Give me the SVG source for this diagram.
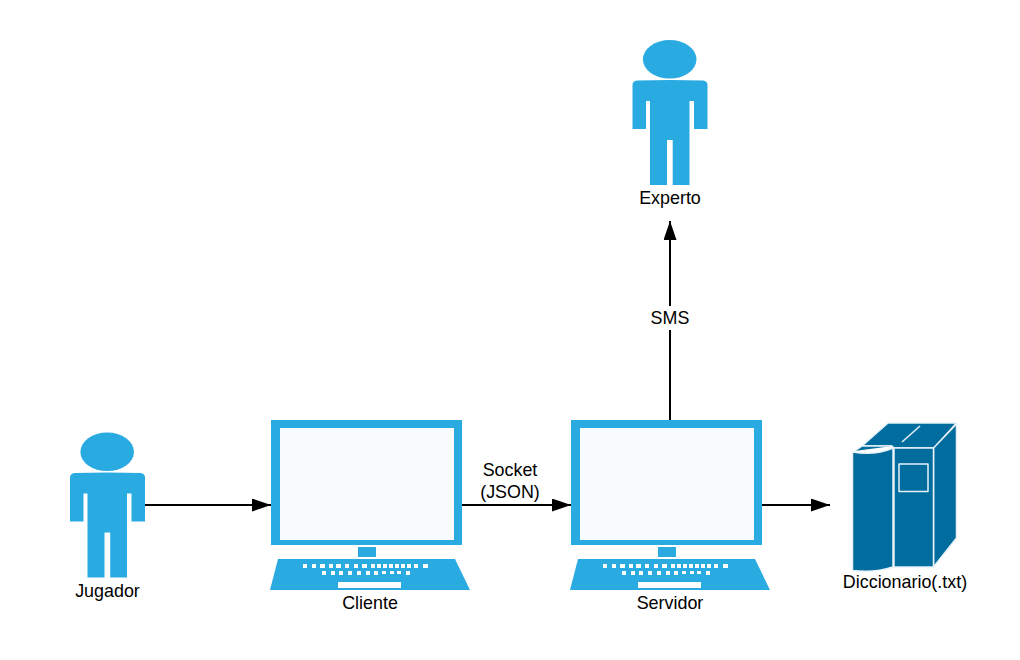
<svg xmlns="http://www.w3.org/2000/svg" width="1020" height="660" viewBox="0 0 1020 660">
<style>
text{font-family:"Liberation Sans",Arial,sans-serif;font-size:17.900px;fill:#000;text-anchor:middle}
.b{fill:#29abe2}
.s{fill:#fff}
.c{fill:none;stroke:#000;stroke-width:2}
.bk{fill:#006d9e;stroke:#e8f2f7;stroke-width:1.500;stroke-linejoin:round}
</style>
<defs>
<marker id="a" markerUnits="userSpaceOnUse" markerWidth="20" markerHeight="14" refX="19" refY="6.5" orient="auto"><path d="M0 0L19 6.500L0 13Z" fill="#000"/></marker>
<g id="person">
<ellipse class="b" cx="669.700" cy="59.300" rx="26.800" ry="19.300"/>
<path class="b" d="M637 80.500Q670 79.500 703 80.500Q707.500 81 707.500 85V129H694V101H689.500V185H672.700V140H667V185H650V101H646V129H632.500V85Q632.500 81 637 80.500Z"/>
</g>
<g id="pc">
<rect class="b" x="271" y="420" width="191" height="125"/>
<rect x="280" y="428" width="174" height="112" fill="#f8fcff"/>
<rect class="b" x="358" y="547" width="18" height="10"/>
<path class="b" d="M278 559H455L470 590H270Z"/>
<path class="s" d="M303 564h4v4h-4zM312 564h4v4h-4zM320 564h5v4h-5zM329 564h4v4h-4zM336 564h5v4h-5zM345 564h4v4h-4zM354 564h4v4h-4zM362 564h5v4h-5zM371 564h4v4h-4zM377 564h4v4h-4zM383 564h4v4h-4zM389 564h4v4h-4zM395 564h4v4h-4zM401 564h4v4h-4zM407 564h4v4h-4zM414 564h4v4h-4zM423 564h5v4h-5zM322 571h4v4h-4zM331 571h4v4h-4zM339 571h4v4h-4zM348 571h4v4h-4zM357 571h4v4h-4zM366 571h4v4h-4zM374 571h4v4h-4zM382 571h4v3h-4zM390 571h4v3h-4zM397 571h4v3h-4zM406 571h4v4h-4z"/>
<rect class="s" x="338" y="582" width="63" height="6"/>
</g>
</defs>
<g id="connectors">
<path class="c" d="M145 505H271" marker-end="url(#a)"/>
<path class="c" d="M462 505H571" marker-end="url(#a)"/>
<path class="c" d="M762 505H830" marker-end="url(#a)"/>
<path class="c" d="M670 420V221" marker-end="url(#a)"/>
<rect x="648" y="306" width="44" height="24" fill="#fff"/>
<text x="670" y="323.700">SMS</text>
<text x="510" y="475.700">Socket</text>
<text x="510" y="497.700">(JSON)</text>
</g>
<g id="experto"><use href="#person"/><text x="670" y="203.700">Experto</text></g>
<g id="jugador"><use href="#person" x="-562.500" y="392.500"/><text x="107.500" y="596.700">Jugador</text></g>
<g id="cliente"><use href="#pc"/><text x="370" y="608.700">Cliente</text></g>
<g id="servidor"><use href="#pc" x="300"/><text x="670" y="608.700">Servidor</text></g>
<g id="diccionario">
<path class="bk" d="M888 423H956.500L934 448H894L892 446H862Z"/>
<path class="bk" d="M933.500 448L956.500 424V538L933.500 567Z"/>
<rect class="bk" x="894" y="448" width="39.500" height="119"/>
<path class="bk" d="M852.500 452Q875 456 893 448V567Q875 573 852.500 570.500Z"/>
<rect class="bk" x="899" y="464" width="29" height="27.500"/>
<path class="bk" d="M902 442L920 426"/>
<path class="bk" d="M855 451L862 446H892" fill="none"/>
<text x="905" y="587.700">Diccionario(.txt)</text>
</g>
</svg>
